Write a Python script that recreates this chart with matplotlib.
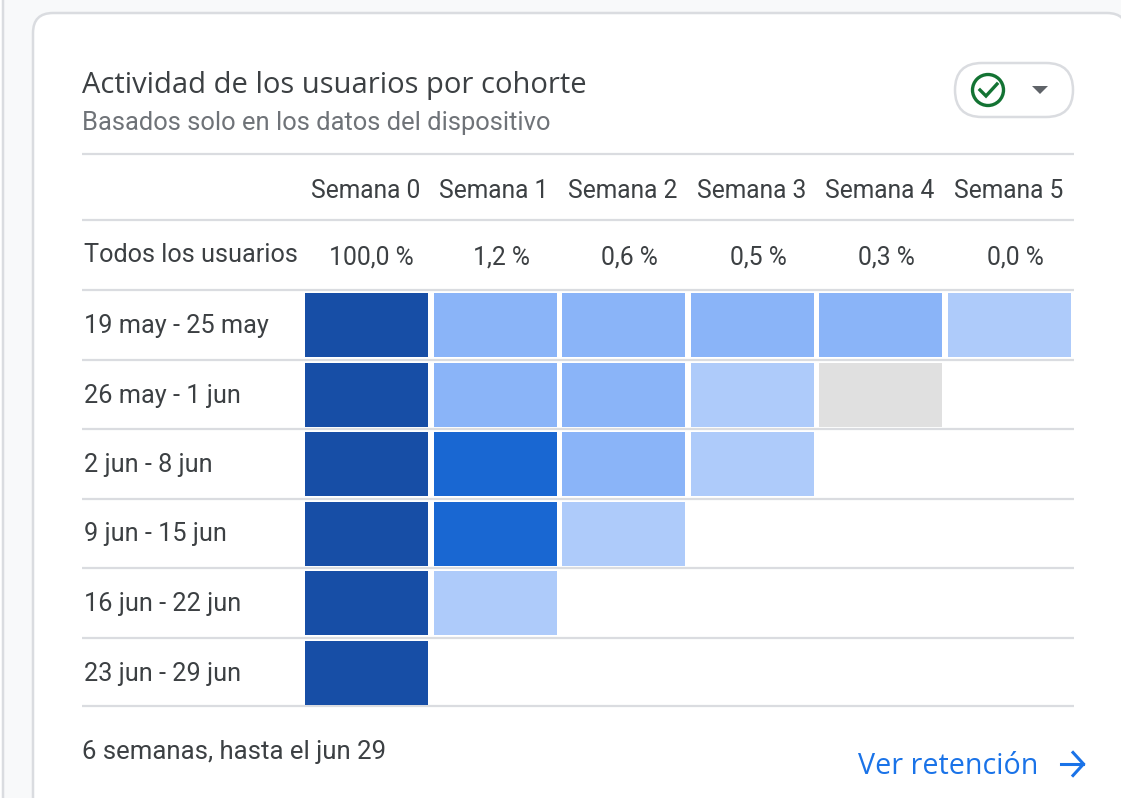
import matplotlib
matplotlib.use('Agg')
import matplotlib.pyplot as plt
from matplotlib.patches import FancyBboxPatch, Circle, Polygon

weeks = ['Semana 0', 'Semana 1', 'Semana 2', 'Semana 3', 'Semana 4', 'Semana 5']
all_users = ['100,0 %', '1,2 %', '0,6 %', '0,5 %', '0,3 %', '0,0 %']
cohorts = ['19 may - 25 may', '26 may - 1 jun', '2 jun - 8 jun',
           '9 jun - 15 jun', '16 jun - 22 jun', '23 jun - 29 jun']

# shade bucket of each cell (-1 = grey, no users)
shade_row0 = [4, 2, 2, 2, 2, 1]
shade_row1 = [4, 2, 2, 1, -1]
shade_row2 = [4, 3, 2, 1]
shade_row3 = [4, 3, 1]
shade_row4 = [4, 1]
shade_row5 = [4]
shades = [shade_row0, shade_row1, shade_row2, shade_row3, shade_row4, shade_row5]

shade_colors = {-1: '#E0E0E0', 1: '#AECBFA', 2: '#8AB4F8', 3: '#1967D2', 4: '#174EA6'}

W, H = 1121, 798
fig = plt.figure(figsize=(W / 100, H / 100), dpi=100, facecolor='#F8F9FA')
ax = fig.add_axes([0, 0, 1, 1])
ax.set_xlim(0, W)
ax.set_ylim(H, 0)
ax.axis('off')

TEXT = '#3C4043'
GREY = '#6F7378'
LINE = '#DADCE0'

# card background, runs off the bottom and right edge
ax.add_patch(FancyBboxPatch((33, 13), 1094, 840, boxstyle='round,pad=0,rounding_size=20',
                            fc='white', ec=LINE, lw=1.8))
ax.add_patch(FancyBboxPatch((-40, -20), 43, 860, boxstyle='round,pad=0,rounding_size=14',
                            fc='white', ec=LINE, lw=1.8))

ax.text(82, 85, 'Actividad de los usuarios por cohorte', fontsize=21, color=TEXT,
        family='Open Sans', va='center', ha='left')
ax.text(82, 123, 'Basados solo en los datos del dispositivo', fontsize=18.4, color=GREY,
        family='Roboto', va='center', ha='left')

# status pill
ax.add_patch(FancyBboxPatch((955, 63), 118, 54, boxstyle='round,pad=0,rounding_size=27',
                            fc='white', ec=LINE, lw=1.8))
ax.add_patch(Circle((988, 90), 15.5, fc='none', ec='#137333', lw=2.4))
ax.plot([980, 986, 997], [90, 96, 84], color='#137333', lw=2.4, solid_joinstyle='miter')
ax.add_patch(Polygon([[1032, 86], [1048, 86], [1040, 94]], fc='#5F6368', ec='none'))

# table rules
rule_ys = [154, 220, 290, 359.5, 429, 499, 568, 638, 706]
for y in rule_ys:
    ax.plot([82, 1074], [y, y], color=LINE, lw=1.6, solid_capstyle='butt')

x0, x_step, cell_w = 305, 128.6, 123
y0, y_step, cell_h = 293, 69.5, 64

for i, w in enumerate(weeks):
    cx = x0 + x_step * i + cell_w / 2
    ax.text(cx - 1, 191.5, w, fontsize=17.7, color=TEXT, family='Roboto', ha='center', va='center')
    ax.text(cx + 5 if i == 0 else cx + 6, 257, all_users[i], fontsize=17.8, color=TEXT,
            family='Roboto', ha='center', va='center')

ax.text(84, 255.5, 'Todos los usuarios', fontsize=18.2, color=TEXT, family='Roboto', va='center')

for r, label in enumerate(cohorts):
    ytop = y0 + y_step * r
    ax.text(84, ytop + cell_h / 2 + 1, label, fontsize=18.2, color=TEXT, family='Roboto', va='center')
    for c, s in enumerate(shades[r]):
        ax.bar(x0 + x_step * c, cell_h, width=cell_w, bottom=ytop, align='edge',
               color=shade_colors[s], lw=0, zorder=3)

# footer
ax.text(82, 752, '6 semanas, hasta el jun 29', fontsize=18.5, color=TEXT, family='Roboto', va='center')
ax.text(858, 767, 'Ver retención', fontsize=20.6, color='#1A73E8', family='Open Sans', va='center')
ax.plot([1061, 1083], [764, 764], color='#1A73E8', lw=2.2)
ax.plot([1073, 1083.5, 1073], [752.5, 764, 775.5], color='#1A73E8', lw=2.2, solid_joinstyle='miter')

fig.savefig('out.png', dpi=100, facecolor=fig.get_facecolor())
